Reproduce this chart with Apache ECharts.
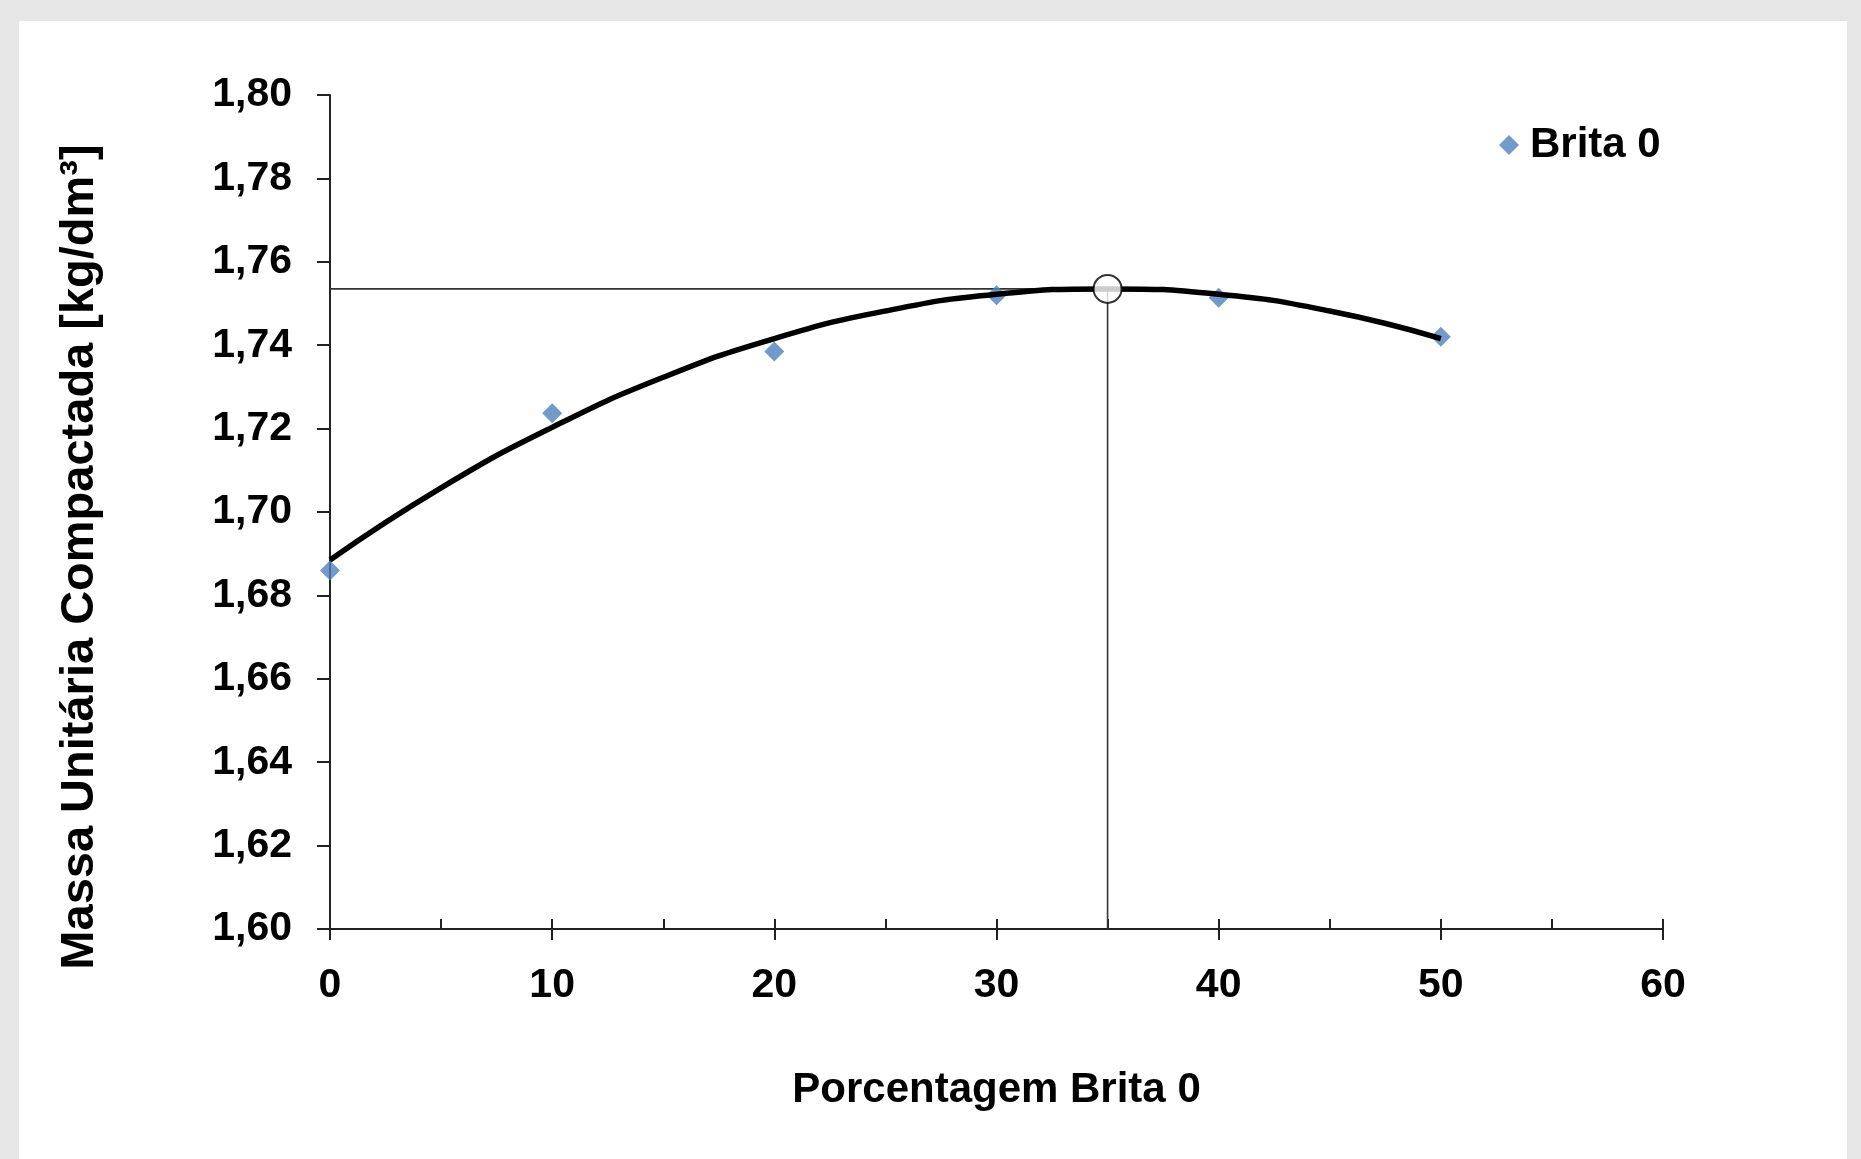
<!DOCTYPE html>
<html>
<head>
<meta charset="utf-8">
<script src="https://cdn.jsdelivr.net/npm/echarts@6/dist/echarts.min.js"></script>
<style>html,body{margin:0;padding:0;background:#e6e6e6;}#c{width:1861px;height:1159px;}</style>
</head>
<body>
<div id="c"></div>
<script>
// Data
var pctBrita = [0, 10, 20, 30, 40, 50];
var massa = [1.686, 1.7237, 1.7385, 1.752, 1.7514, 1.742];
// Trend curve (polynomial trendline)
var trendX = [0, 5, 10, 15, 20, 25, 30, 35, 40, 45, 50];
var trendY = [1.6885, 1.7058, 1.7203, 1.7323, 1.7416, 1.7482, 1.7522, 1.7535, 1.7522, 1.7482, 1.7416];
// Optimum guide lines and point
var guideX = [0, 35, 35];
var guideY = [1.7535, 1.7535, 1.60];
var optX = [35];
var optY = [1.7535];
var xTicks = [0, 10, 20, 30, 40, 50, 60];
var yTicks = ['1,60','1,62','1,64','1,66','1,68','1,70','1,72','1,74','1,76','1,78','1,80'];

var FONT = '"Liberation Sans", Arial, sans-serif';
var chart = echarts.init(document.getElementById('c'), null, {renderer: 'canvas'});
function zip(a, b) { return a.map(function (v, i) { return [v, b[i]]; }); }

chart.setOption({
  animation: false,
  backgroundColor: '#e6e6e6',
  graphic: [
    { type: 'rect', z: -10, silent: true, shape: { x: 19, y: 21, width: 1828, height: 1138 }, style: { fill: '#ffffff' } },
    { type: 'text', x: 80, y: 557, rotation: Math.PI / 2, silent: true,
      style: { text: 'Massa Unitária Compactada [kg/dm³]', font: 'bold 47px ' + FONT, fill: '#000', align: 'center', verticalAlign: 'middle' } }
  ],
  grid: { left: 330, right: 198, top: 95, bottom: 230, containLabel: false },
  legend: {
    data: ['Brita 0'], left: 1494, top: 119, icon: 'diamond', itemWidth: 20, itemHeight: 20, itemGap: 10,
    textStyle: { fontFamily: FONT, fontWeight: 'bold', fontSize: 42, color: '#000', padding: [0, 0, 0, 6] }
  },
  xAxis: [{
    type: 'value', min: 0, max: 60, interval: 10,
    name: 'Porcentagem Brita 0', nameLocation: 'middle', nameGap: 140,
    nameTextStyle: { fontFamily: FONT, fontWeight: 'bold', fontSize: 42, color: '#000' },
    axisLine: { lineStyle: { color: '#222', width: 2 } },
    axisTick: { show: true, length: 11, lineStyle: { color: '#222', width: 2 } },
    axisLabel: { margin: 36, fontFamily: FONT, fontWeight: 'bold', fontSize: 41, color: '#000',
      formatter: function (v) { return xTicks.indexOf(v) >= 0 ? String(v) : ''; } },
    splitLine: { show: false }
  }, {
    type: 'value', min: 0, max: 60, interval: 5, position: 'bottom',
    axisLine: { show: false },
    axisTick: { show: true, inside: true, length: 10, lineStyle: { color: '#222', width: 2 } },
    axisLabel: { show: false }, splitLine: { show: false }
  }],
  yAxis: {
    type: 'value', min: 1.60, max: 1.80, interval: 0.02,
    axisLine: { show: true, lineStyle: { color: '#222', width: 2 } },
    axisTick: { show: true, length: 13, lineStyle: { color: '#222', width: 2 } },
    axisLabel: { margin: 38, fontFamily: FONT, fontWeight: 'bold', fontSize: 41, color: '#000',
      formatter: function (v) { var i = Math.round((v - 1.60) / 0.02); return yTicks[i] || ''; } },
    splitLine: { show: false }
  },
  series: [
    { name: 'guide', type: 'line', data: zip(guideX, guideY), symbol: 'none', z: 1,
      lineStyle: { color: '#333', width: 1.6 }, silent: true },
    { name: 'Brita 0', type: 'scatter', data: zip(pctBrita, massa), symbol: 'diamond', symbolSize: 20, z: 2,
      itemStyle: { color: '#4f81bd' } },
    { name: 'trend', type: 'line', data: zip(trendX, trendY), smooth: true, symbol: 'none', z: 3,
      lineStyle: { color: '#000', width: 5.5 }, silent: true },
    { name: 'opt', type: 'scatter', data: zip(optX, optY), symbol: 'circle', symbolSize: 28, z: 5,
      itemStyle: { color: '#fff', borderColor: '#000', borderWidth: 2 }, silent: true }
  ]
});
</script>
</body>
</html>
